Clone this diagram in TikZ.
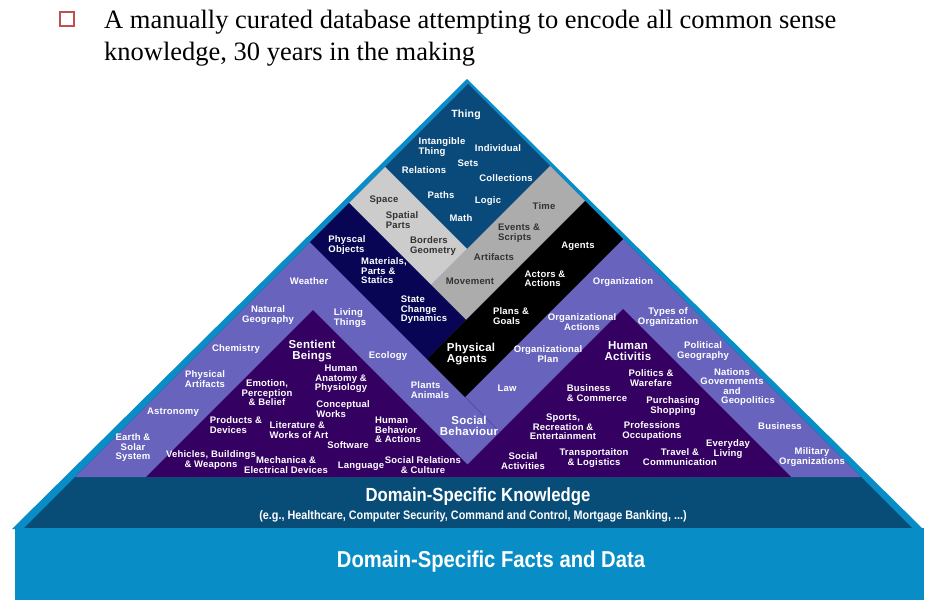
\documentclass[tikz,border=0pt]{standalone}
\usepackage{fontspec}
\setmainfont{Liberation Serif}
\setsansfont{Liberation Sans}
\newfontfamily\condfont[FakeStretch=0.88]{Liberation Sans}
\newfontfamily\lblfont[LetterSpace=2]{Liberation Sans}

\definecolor{cycsky}{RGB}{8,141,198}
\definecolor{cycband}{RGB}{8,76,120}
\definecolor{cycthing}{RGB}{10,74,122}
\definecolor{cyclight}{RGB}{204,204,204}
\definecolor{cycgray}{RGB}{172,172,172}
\definecolor{cycnavy}{RGB}{8,6,84}
\definecolor{cyclav}{RGB}{104,100,190}
\definecolor{cycplum}{RGB}{52,0,98}
\definecolor{cycseam}{RGB}{84,76,170}
\definecolor{cycbullet}{RGB}{192,80,77}
\definecolor{cyctext}{RGB}{50,50,50}

\begin{document}
\begin{tikzpicture}[
        x=1pt, y=-1pt,
        lbl/.style={text=white, font=\lblfont\bfseries\fontsize{9.5}{9.5}\selectfont, align=center, inner sep=0pt},
        lblleft/.style={lbl, align=left},
        dark/.style={lbl, text=cyctext},
        darkleft/.style={dark, align=left},
        biglbl/.style={lbl, font=\lblfont\bfseries\fontsize{11.5}{11}\selectfont},
        bigleft/.style={biglbl, align=left},
        layer/.style={text=white, font=\condfont\bfseries},
    ]
    \useasboundingbox (0,0) rectangle (929,608);

    % Title
    \node[draw=cycbullet, line width=2pt, minimum size=14pt, inner sep=0pt] (bullet) at (67,19) {};
    \node[anchor=base west, font=\fontsize{26.5}{32}\selectfont, inner sep=0pt] (title1) at (104,28)
        {A manually curated database attempting to encode all common sense};
    \node[anchor=base west, font=\fontsize{26.5}{32}\selectfont, inner sep=0pt] (title2) at (104,60)
        {knowledge, 30 years in the making};

    % Pyramid body
    \fill[cycsky] (467,79) -- (12,529) -- (923,529) -- cycle;
    \fill[cycband] (468,84) -- (24,528) -- (912,528) -- cycle;
    \fill[cyclav] (468,84) -- (75,477) -- (861,477) -- cycle;
    \fill[cycthing] (468,84) -- (385,167) -- (467,249) -- (550,166) -- cycle;
    \fill[cyclight] (385,167) -- (349,203) -- (431,285) -- (467,249) -- cycle;
    \fill[cycgray] (550,166) -- (585,201) -- (466,320) -- (431,285) -- cycle;
    \fill[cycnavy] (349,203) -- (310,242) -- (427,359) -- (466,320) -- cycle;
    \fill[black] (585,201) -- (623,239) -- (465,397) -- (427,359) -- cycle;
    \fill[cycplum] (146,477) -- (313,310) -- (467.5,464.5) -- (623,309) -- (791,477) -- cycle;
    \draw[cycseam, line width=0.8pt] (465,397) -- (500,432);
    \fill[cycsky] (15,528) rectangle (924,600);

    % Labels on white text
    \foreach \nm/\x/\y/\txt in {
        individual/498/148/{Individual}, sets/468/163/{Sets}, relations/424/170/{Relations},
        collections/506/178/{Collections}, paths/441/195/{Paths}, logic/488/201/{Logic},
        math/461/218/{Math}, agents/578/246/{Agents}, weather/309/281/{Weather},
        natgeo/268/315/{Natural\\Geography}, chemistry/236/349/{Chemistry}, ecology/388/356/{Ecology},
        physart/205/379/{Physical\\Artifacts}, astronomy/173/412/{Astronomy},
        earth/133/448/{Earth \&\\Solar\\System}, anatomy/341/379/{Human\\Anatomy \&\\Physiology},
        emotion/267/393/{Emotion,\\Perception\\\& Belief}, software/348/445/{Software},
        vehicles/211/460/{Vehicles, Buildings\\\& Weapons}, mechanica/286/465/{Mechanica \&\\Electrical Devices},
        language/361/466/{Language}, socrel/423/465/{Social Relations\\\& Culture},
        organization/623/282/{Organization}, typesorg/668/317/{Types of\\Organization},
        orgactions/582/322/{Organizational\\Actions}, orgplan/548/354/{Organizational\\Plan},
        polgeo/703/351/{Political\\Geography}, law/507/388/{Law},
        nations/732/387/{Nations\\Governments\\and\\\hspace*{32pt}Geopolitics},
        business/780/426/{Business}, military/812/457/{Military\\Organizations},
        politics/651/378/{Politics \&\\Warefare}, purchasing/673/406/{Purchasing\\Shopping},
        sports/563/427/{Sports,\\Recreation \&\\Entertainment}, professions/652/431/{Professions\\Occupations},
        everyday/728/449/{Everyday\\Living}, socact/523/461/{Social\\Activities},
        transport/594/458/{Transportaiton\\\& Logistics}, travel/680/457/{Travel \&\\Communication}} {
        \node[lbl] (\nm) at (\x,\y) {\txt};
    }
    \foreach \nm/\x/\y/\txt in {
        intangible/442/147/{Intangible\\Thing}, actors/545/279/{Actors \&\\Actions},
        plans/511/316/{Plans \&\\Goals}, physobj/347/245/{Physcal\\Objects},
        materials/384/271/{Materials,\\Parts \&\\Statics}, state/424/310/{State\\Change\\Dynamics},
        living/350/318/{Living\\Things}, plants/430/390/{Plants\\Animals},
        conceptual/343/409/{Conceptual\\Works}, products/236/425/{Products \&\\Devices},
        literature/299/430/{Literature \&\\Works of Art}, behavior/398/430/{Human\\Behavior\\\& Actions},
        commerce/597/393/{Business\\\& Commerce}} {
        \node[lblleft] (\nm) at (\x,\y) {\txt};
    }

    % Labels on grey
    \foreach \nm/\x/\y/\txt in {
        space/384/200/{Space}, time/544/206/{Time}, artifacts/494/257/{Artifacts}, movement/470/281/{Movement}} {
        \node[dark] (\nm) at (\x,\y) {\txt};
    }
    \foreach \nm/\x/\y/\txt in {
        spatial/402/220/{Spatial\\Parts}, borders/433/246/{Borders\\Geometry}, events/519/233/{Events \&\\Scripts}} {
        \node[darkleft] (\nm) at (\x,\y) {\txt};
    }

    % Larger labels
    \node[lbl, font=\lblfont\bfseries\fontsize{10.5}{10.5}\selectfont] (thing) at (466,115) {Thing};
    \node[bigleft] (physagents) at (471,354) {Physical\\Agents};
    \node[biglbl] (sentient) at (312,351) {Sentient\\Beings};
    \node[biglbl] (socbeh) at (469,426) {Social\\Behaviour};
    \node[biglbl] (humact) at (628,351) {Human\\Activitis};

    % Bottom layers
    \node[layer, font=\condfont\bfseries\fontsize{19}{19}\selectfont] (knowledge) at (478,497) {Domain-Specific Knowledge};
    \node[layer, font=\condfont\bfseries\fontsize{12.3}{12.3}\selectfont] (examples) at (473,516)
        {(e.g., Healthcare, Computer Security, Command and Control, Mortgage Banking, ...)};
    \node[layer, font=\condfont\bfseries\fontsize{23}{23}\selectfont] (facts) at (491,562) {Domain-Specific Facts and Data};
\end{tikzpicture}
\end{document}
